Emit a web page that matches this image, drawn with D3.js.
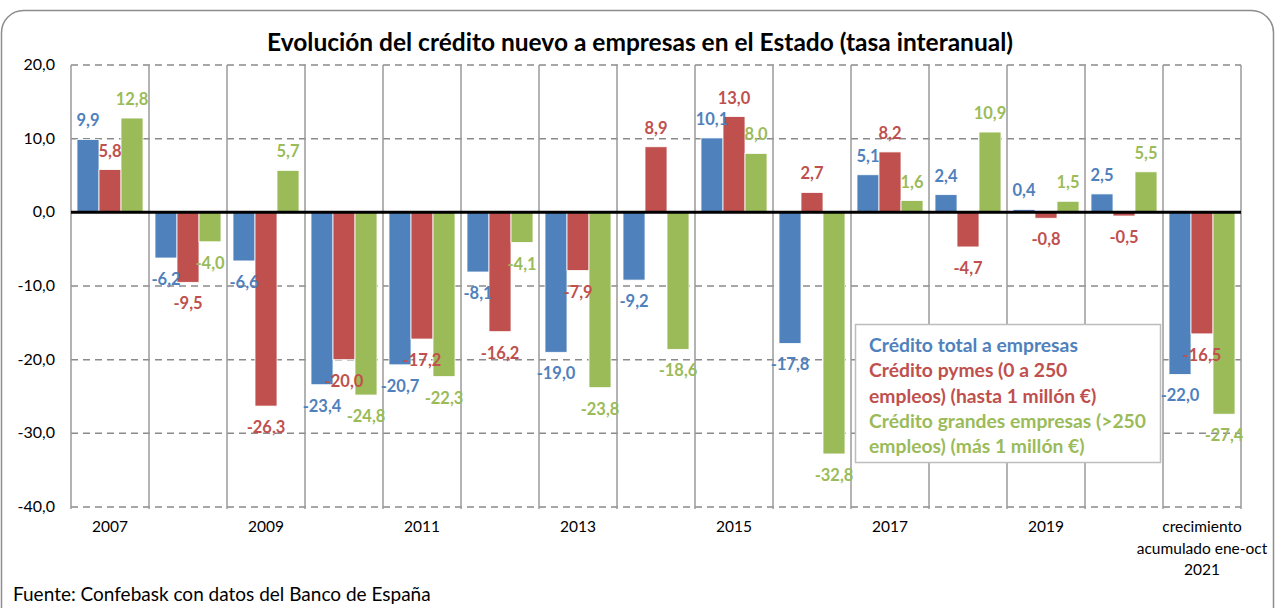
<!DOCTYPE html>
<html>
<head>
<meta charset="utf-8">
<script src="https://cdn.jsdelivr.net/npm/d3@7"></script>
<style>
  body { margin: 0; background: #fff; }
  svg { display: block; font-family: Lato, "Open Sans", sans-serif; }
</style>
</head>
<body>
<svg id="chart" width="1277" height="608"></svg>
<script>
// Datos
const categories = ["2007", "2008", "2009", "2010", "2011", "2012", "2013", "2014",
  "2015", "2016", "2017", "2018", "2019", "2020", "2021"]
const xLabels = {
  "2007": ["2007"], "2009": ["2009"], "2011": ["2011"], "2013": ["2013"],
  "2015": ["2015"], "2017": ["2017"], "2019": ["2019"],
  "2021": ["crecimiento", "acumulado ene-oct", "2021"]
}
const total = [9.9, -6.2, -6.6, -23.4, -20.7, -8.1, -19.0, -9.2, 10.1, -17.8, 5.1, 2.4, 0.4, 2.5, -22.0]
const pymes = [5.8, -9.5, -26.3, -20.0, -17.2, -16.2, -7.9, 8.9, 13.0, 2.7, 8.2, -4.7, -0.8, -0.5, -16.5]
const grandes = [12.8, -4.0, 5.7, -24.8, -22.3, -4.1, -23.8, -18.6, 8.0, -32.8, 1.6, 10.9, 1.5, 5.5, -27.4]
const seriesNames = ["total", "pymes", "grandes"]
const yTicks = [20, 10, 0, -10, -20, -30, -40]

const colors = { total: "#4F81BD", pymes: "#C0504D", grandes: "#9BBB59" }

const svg = d3.select("#chart")

// Marco
svg.append("rect")
  .attr("x", 1.5).attr("y", 10.5)
  .attr("width", 1272).attr("height", 620)
  .attr("rx", 22)
  .attr("fill", "#fff")
  .attr("stroke", "#8c8c8c")
  .attr("stroke-width", 1.5)

// Titulo
svg.append("text")
  .attr("x", 640).attr("y", 51)
  .attr("text-anchor", "middle")
  .attr("font-weight", "bold")
  .attr("font-size", 24.5)
  .attr("fill", "#000")
  .text("Evolución del crédito nuevo a empresas en el Estado (tasa interanual)")

const plotLeft = 71, plotRight = 1241, plotTop = 65, plotBottom = 507

const x = d3.scaleBand()
  .domain(categories)
  .range([plotLeft, plotRight])

const x1 = d3.scaleBand()
  .domain(seriesNames)
  .range([6, x.bandwidth() - 6])

const y = d3.scaleLinear()
  .domain([-40, 20])
  .range([plotBottom, plotTop])

const locale = d3.formatLocale({ decimal: ",", thousands: ".", grouping: [3], currency: ["", "€"], minus: "-" })
const fmt = locale.format(".1f")

// Rejilla horizontal
svg.append("g")
  .selectAll("line")
  .data(yTicks.filter(d => d !== 0))
  .enter()
  .append("line")
  .attr("x1", plotLeft).attr("x2", plotRight)
  .attr("y1", d => y(d)).attr("y2", d => y(d))
  .attr("stroke", "#8a8a8a")
  .attr("stroke-width", 1.5)
  .attr("stroke-dasharray", "7,5")

// Rejilla vertical
svg.append("g")
  .selectAll("line")
  .data(categories.map(c => x(c)).concat([plotRight]))
  .enter()
  .append("line")
  .attr("x1", d => d).attr("x2", d => d)
  .attr("y1", plotTop).attr("y2", plotBottom + 2)
  .attr("stroke", "#9a9a9a")
  .attr("stroke-width", 1.5)

// Eje Y
svg.append("g")
  .selectAll("text")
  .data(yTicks)
  .enter()
  .append("text")
  .attr("x", 55)
  .attr("y", d => y(d) + 5)
  .attr("text-anchor", "end")
  .attr("font-size", 16)
  .attr("fill", "#000")
  .text(d => fmt(d))

// Barras
const groups = svg.append("g")
  .selectAll("g")
  .data(categories)
  .enter()
  .append("g")
  .attr("transform", d => `translate(${x(d)},0)`)

const seriesData = { total, pymes, grandes }

groups.selectAll("rect")
  .data((d, i) => seriesNames.map(s => ({ s, v: seriesData[s][i] })))
  .enter()
  .append("rect")
  .attr("x", d => x1(d.s))
  .attr("width", x1.bandwidth())
  .attr("y", d => y(Math.max(0, d.v)))
  .attr("height", d => Math.abs(y(d.v) - y(0)))
  .attr("fill", d => colors[d.s])
  .attr("stroke", "#fff")
  .attr("stroke-width", 0.8)

// Linea del cero
svg.append("line")
  .attr("x1", plotLeft).attr("x2", plotRight)
  .attr("y1", y(0)).attr("y2", y(0))
  .attr("stroke", "#000")
  .attr("stroke-width", 3)

// Etiquetas
groups.selectAll("text")
  .data((d, i) => seriesNames.map(s => ({ s, v: seriesData[s][i] })))
  .enter()
  .append("text")
  .attr("x", d => x1(d.s) + x1.bandwidth() / 2)
  .attr("y", d => d.v >= 0 ? y(d.v) - 13 : y(d.v) + 27)
  .attr("text-anchor", "middle")
  .attr("font-weight", "bold")
  .attr("font-size", 16.5)
  .attr("fill", d => colors[d.s])
  .text(d => fmt(d.v))

// Eje X
const xl = svg.append("g")
  .selectAll("text")
  .data(categories.filter(c => xLabels[c]))
  .enter()
  .append("text")
  .attr("x", d => x(d) + x.bandwidth() / 2)
  .attr("y", 532)
  .attr("text-anchor", "middle")
  .attr("font-size", 15.5)
  .attr("fill", "#000")

xl.selectAll("tspan")
  .data(d => xLabels[d])
  .enter()
  .append("tspan")
  .attr("x", function () { return this.parentNode.getAttribute("x") })
  .attr("dy", (d, i) => i === 0 ? 0 : 21.5)
  .text(d => d)

// Leyenda
const legend = svg.append("g")
legend.append("rect")
  .attr("x", 855.5).attr("y", 324.5)
  .attr("width", 305).attr("height", 138)
  .attr("fill", "#fff")
  .attr("stroke", "#bdbdbd")
  .attr("stroke-width", 1.5)

const legendLines = [
  { t: "Crédito total a empresas", s: "total" },
  { t: "Crédito pymes (0 a 250", s: "pymes" },
  { t: "empleos) (hasta 1 millón €)", s: "pymes" },
  { t: "Crédito grandes empresas (>250", s: "grandes" },
  { t: "empleos) (más 1 millón €)", s: "grandes" }
]

legend.selectAll("text")
  .data(legendLines)
  .enter()
  .append("text")
  .attr("x", 869)
  .attr("y", (d, i) => 352 + i * 25.3)
  .attr("font-weight", "bold")
  .attr("font-size", 19.3)
  .attr("fill", d => colors[d.s])
  .text(d => d.t)

// Fuente
svg.append("text")
  .attr("x", 13).attr("y", 601)
  .attr("font-size", 19)
  .attr("fill", "#000")
  .text("Fuente: Confebask con datos del Banco de España")
</script>
</body>
</html>
